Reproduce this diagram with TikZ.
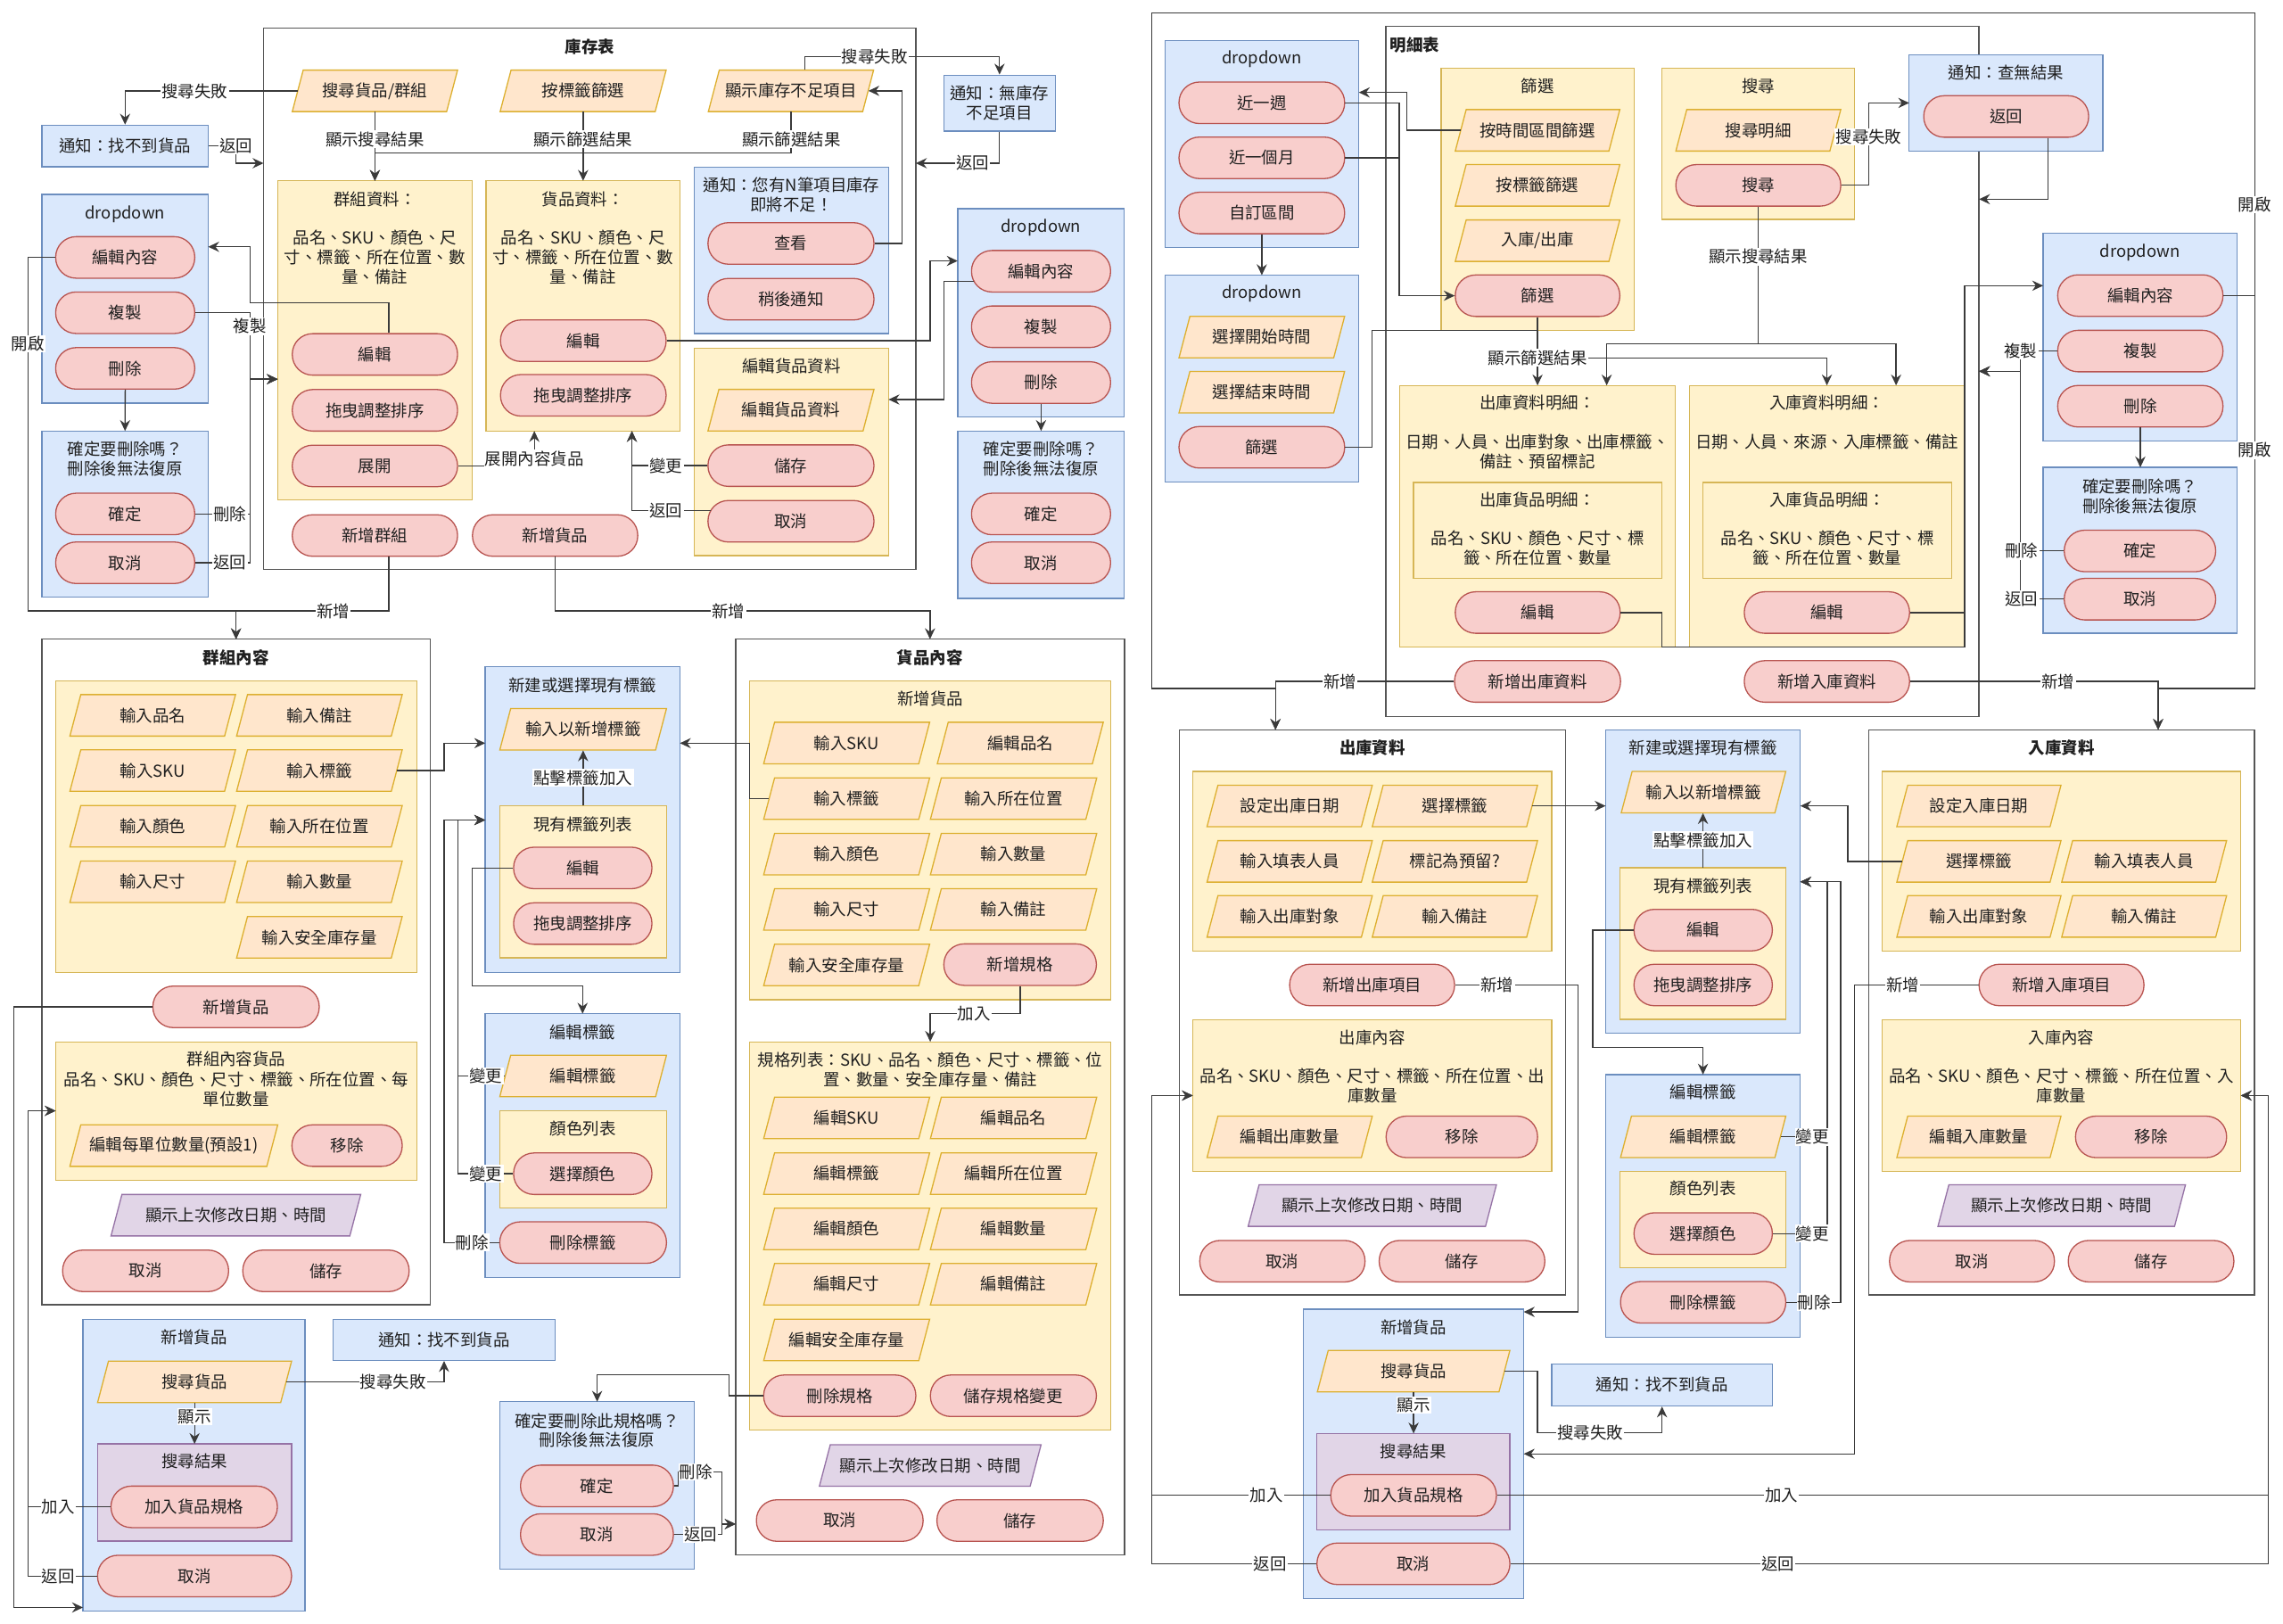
\documentclass[tikz,border=0pt]{standalone}
\usepackage{fontspec}
\setmainfont{Noto Sans CJK TC}
\usetikzlibrary{arrows.meta,calc}
\definecolor{bfill}{HTML}{DAE8FC}
\definecolor{bline}{HTML}{6C8EBF}
\definecolor{yfill}{HTML}{FFF2CC}
\definecolor{yline}{HTML}{D6B656}
\definecolor{ofill}{HTML}{FFE6CC}
\definecolor{oline}{HTML}{DDB030}
\definecolor{rfill}{HTML}{F8CECC}
\definecolor{rline}{HTML}{B85450}
\definecolor{pfill}{HTML}{E1D5E7}
\definecolor{pline}{HTML}{9673A6}
\definecolor{fline}{HTML}{555555}
\definecolor{cline}{HTML}{3A3A3A}
\definecolor{tcol}{HTML}{1F1F1F}
\newcommand\dfont{\fontsize{11.3}{13.4}\selectfont}
\tikzset{
 txt/.style={font=\dfont, text=tcol, inner sep=0pt, align=center},
 bluebox/.style={draw=bline, fill=bfill, line width=0.8pt},
 yelbox/.style={draw=yline, fill=yfill, line width=0.8pt},
 purbox/.style={draw=pline, fill=pfill, line width=0.8pt},
 framebox/.style={draw=fline, fill=white, line width=0.9pt},
 opara/.style={draw=oline, fill=ofill, line width=0.8pt},
 ppara/.style={draw=pline, fill=pfill, line width=0.8pt},
 pill/.style={txt, draw=rline, fill=rfill, rounded corners=14pt, line width=0.8pt, minimum height=28.5pt},
 conn/.style={draw=cline, line width=0.8pt},
 arr/.style={conn, -{Stealth[length=7.5pt,width=7pt,inset=2.5pt]}},
 elabel/.style={txt, fill=white, inner sep=0.8pt},
 ttl/.style={txt, font=\dfont\bfseries},
}
\newcommand\cont[6]{\node[#6, anchor=north west, minimum width={#4pt-#2pt}, minimum height={#5pt-#3pt}, inner sep=0pt, outer sep=0pt] (#1) at (#2,#3) {};}
\newcommand\pil[5]{\node[pill, minimum width={#3pt-#2pt}] (#1) at ({(#2+#3)/2},#4) {#5};}
\newcommand\para[6]{\path[#5] ({#2+7.5},{#4-14.25}) -- (#3,{#4-14.25}) -- ({#3-7.5},{#4+14.25}) -- (#2,{#4+14.25}) -- cycle;
 \node[txt, minimum width={#3pt-#2pt-7.5pt}, minimum height=28.5pt] (#1) at ({(#2+#3)/2},#4) {#6};}
\newcommand\tx[4]{\node[txt] (#1) at (#2,#3) {#4};}
\newcommand\lab[4]{\node[elabel] (#1) at (#2,#3) {#4};}
\begin{document}
\begin{tikzpicture}[x=1pt,y=-1pt]
\useasboundingbox (0,0) rectangle (1568,1115);
\fill[white] (0,0) rectangle (1568,1115);
% ===== frames =====
\cont{stock}{181}{19.4}{629}{391}{framebox}
\cont{detail}{951.75}{18.2}{1359.25}{492.2}{framebox}
\cont{grpc}{28.75}{439}{295.5}{896}{framebox}
\cont{prodc}{505.25}{439}{772.25}{1068}{framebox}
\cont{outc}{810}{501.2}{1075.25}{889.3}{framebox}
\cont{inc}{1283.5}{501.2}{1548.5}{889.3}{framebox}
\node[ttl] (stockT) at (405,32) {庫存表};
\node[ttl, anchor=west] (detailT) at (954.5,31) {明細表};
\node[ttl] (grpcT) at (162.1,451.5) {群組內容};
\node[ttl] (prodcT) at (638.75,451.5) {貨品內容};
\node[ttl] (outcT) at (942.6,513.8) {出庫資料};
\node[ttl] (incT) at (1416,513.8) {入庫資料};
% ===== top left =====
\cont{gdata}{190.75}{124.2}{324.25}{343.4}{yelbox}
\tx{gdataT}{257.5}{136.8}{群組資料：}
\tx{gdataB}{257.5}{176.8}{品名、SKU、顏色、尺\\寸、標籤、所在位置、數\\量、備註}
\cont{pdata}{333.75}{124.2}{467}{296}{yelbox}
\tx{pdataT}{400.4}{136.8}{貨品資料：}
\tx{pdataB}{400.4}{176.8}{品名、SKU、顏色、尺\\寸、標籤、所在位置、數\\量、備註}
\cont{nfN}{477}{115}{610.25}{229.1}{bluebox}
\tx{nfNT}{543.6}{133.85}{通知：您有N筆項目庫存\\即將不足！}
\cont{eprod}{477}{239}{610.25}{381.5}{yelbox}
\tx{eprodT}{543.6}{251.2}{編輯貨品資料}
\cont{dd1}{28.75}{133.5}{143}{276.8}{bluebox}
\tx{dd1T}{85.9}{147}{dropdown}
\cont{c1}{28.75}{296}{143}{410}{bluebox}
\tx{c1T}{85.9}{315.2}{確定要刪除嗎？\\刪除後無法復原}
\cont{dd2}{657.75}{143.4}{772.25}{286.3}{bluebox}
\tx{dd2T}{715}{156.2}{dropdown}
\cont{c2}{657.75}{296}{772.25}{411}{bluebox}
\tx{c2T}{715}{315.2}{確定要刪除嗎？\\刪除後無法復原}
\node[bluebox, txt, minimum width=114.25pt, minimum height=28.6pt] (nf1) at (85.9,100.3) {通知：找不到貨品};
\node[bluebox, txt, minimum width=76.5pt, minimum height=38.5pt] (nf2) at (686.5,70.85) {通知：無庫存\\不足項目};
\para{psearch}{200.75}{314.25}{62.4}{opara}{搜尋貨品/群組}
\para{ptag}{343.5}{457.5}{62.4}{opara}{按標籤篩選}
\para{plow}{486.5}{600}{62.4}{opara}{顯示庫存不足項目}
\para{epp}{486.25}{600.25}{281.7}{opara}{編輯貨品資料}
\pil{gedit}{200.75}{314.25}{243.4}{編輯}
\pil{gdrag}{200.75}{314.25}{281.8}{拖曳調整排序}
\pil{gexp}{200.75}{314.25}{320}{展開}
\pil{pedit}{343.75}{457.5}{234}{編輯}
\pil{pdrag}{343.75}{457.5}{271.5}{拖曳調整排序}
\pil{view}{486.25}{600.25}{167.2}{查看}
\pil{later}{486.25}{600.25}{205.5}{稍後通知}
\pil{esave}{486.25}{600.25}{319.8}{儲存}
\pil{ecancel}{486.25}{600.25}{358}{取消}
\pil{dedit}{38.25}{133.75}{176.8}{編輯內容}
\pil{dcopy}{38.25}{133.75}{214.8}{複製}
\pil{ddel}{38.25}{133.75}{253}{刪除}
\pil{cok}{38.25}{133.75}{353}{確定}
\pil{cno}{38.25}{133.75}{386.5}{取消}
\pil{eedit}{667.25}{762.75}{186.3}{編輯內容}
\pil{ecopy}{667.25}{762.75}{224.4}{複製}
\pil{edel}{667.25}{762.75}{262.7}{刪除}
\pil{eok}{667.25}{762.75}{353}{確定}
\pil{eno}{667.25}{762.75}{386.5}{取消}
\pil{newgrp}{200.75}{314.25}{367.8}{新增群組}
\pil{newprod}{324.5}{438}{367.8}{新增貨品}
% ===== top right =====
\cont{dd3}{800.25}{27.9}{933.25}{170}{bluebox}
\tx{dd3T}{866.75}{40.7}{dropdown}
\pil{wk}{809.75}{923.5}{70.6}{近一週}
\pil{mo}{809.75}{923.5}{108.4}{近一個月}
\pil{cust}{809.75}{923.5}{146.3}{自訂區間}
\cont{dd4}{800.25}{189}{933.25}{330.9}{bluebox}
\tx{dd4T}{866.75}{201.8}{dropdown}
\para{tstart}{809.75}{923.5}{231.5}{opara}{選擇開始時間}
\para{tend}{809.75}{923.5}{269.3}{opara}{選擇結束時間}
\pil{dfilt}{809.75}{923.5}{307.2}{篩選}
\cont{flt}{989.75}{46.7}{1122.25}{227}{yelbox}
\tx{fltT}{1056}{58.9}{篩選}
\para{ftime}{999.5}{1112.5}{89.5}{opara}{按時間區間篩選}
\para{ftag}{999.5}{1112.5}{127.3}{opara}{按標籤篩選}
\para{finout}{999.5}{1112.5}{165.3}{opara}{入庫/出庫}
\pil{fbtn}{999.5}{1112.5}{203.1}{篩選}
\cont{srch}{1141.5}{46.7}{1273.5}{150.6}{yelbox}
\tx{srchT}{1207.5}{58.9}{搜尋}
\para{sdet}{1151}{1264.25}{89.5}{opara}{搜尋明細}
\pil{sbtn}{1151}{1264.25}{127.3}{搜尋}
\cont{nf3}{1311.25}{37.5}{1444.25}{103.7}{bluebox}
\tx{nf3T}{1377.75}{50.1}{通知：查無結果}
\pil{nback}{1321.25}{1434.5}{80}{返回}
\cont{od}{961.25}{264.7}{1150.75}{444.5}{yelbox}
\tx{odT}{1056}{276.8}{出庫資料明細：}
\tx{odB}{1056}{310.15}{日期、人員、出庫對象、出庫標籤、\\備註、預留標記}
\cont{oditem}{970.75}{331.3}{1141.5}{397}{yelbox}
\tx{oditemT}{1056}{343.4}{出庫貨品明細：}
\tx{oditemB}{1056}{376.25}{品名、SKU、顏色、尺寸、標\\籤、所在位置、數量}
\pil{odedit}{999.5}{1112.75}{420.7}{編輯}
\cont{idt}{1160.25}{264.7}{1349.25}{444.5}{yelbox}
\tx{idtT}{1254.75}{276.8}{入庫資料明細：}
\tx{idtB}{1254.75}{303.5}{日期、人員、來源、入庫標籤、備註}
\cont{iditem}{1169.75}{331.3}{1340.25}{397}{yelbox}
\tx{iditemT}{1255}{343.4}{入庫貨品明細：}
\tx{iditemB}{1255}{376.25}{品名、SKU、顏色、尺寸、標\\籤、所在位置、數量}
\pil{idedit}{1198}{1311.5}{420.7}{編輯}
\pil{newout}{999}{1113}{468}{新增出庫資料}
\pil{newin}{1198}{1311.5}{468}{新增入庫資料}
\cont{dd5}{1403.25}{160.3}{1536.25}{302.8}{bluebox}
\tx{dd5T}{1469.75}{173.7}{dropdown}
\pil{fedit}{1413.25}{1526.75}{203}{編輯內容}
\pil{fcopy}{1413.25}{1526.75}{241.1}{複製}
\pil{fdel}{1413.25}{1526.75}{279}{刪除}
\cont{c5}{1403.25}{321}{1536.25}{434.8}{bluebox}
\tx{c5T}{1469.75}{340.6}{確定要刪除嗎？\\刪除後無法復原}
\pil{fok}{1417.75}{1521.75}{378.4}{確定}
\pil{fno}{1417.75}{1521.75}{411.5}{取消}
% ===== lower left =====
\cont{gin}{38.25}{467.5}{286.25}{667.8}{yelbox}
\para{giname}{48}{161.75}{491.3}{opara}{輸入品名}
\para{gisku}{48}{161.75}{529.2}{opara}{輸入SKU}
\para{gicolor}{48}{161.75}{567.5}{opara}{輸入顏色}
\para{gisize}{48}{161.75}{605.6}{opara}{輸入尺寸}
\para{ginote}{162.5}{276.25}{491.3}{opara}{輸入備註}
\para{gitag}{162.5}{276.25}{529.2}{opara}{輸入標籤}
\para{giloc}{162.5}{276.25}{567.5}{opara}{輸入所在位置}
\para{giqty}{162.5}{276.25}{605.6}{opara}{輸入數量}
\para{gisafe}{162.5}{276.25}{643.7}{opara}{輸入安全庫存量}
\pil{gaddp}{105}{219.25}{691.5}{新增貨品}
\cont{gitems}{38.25}{715.5}{286.25}{810.8}{yelbox}
\tx{gitemsT}{162.25}{727.6}{群組內容貨品}
\tx{gitemsB}{162.25}{748}{品名、SKU、顏色、尺寸、標籤、所在位置、每\\單位數量}
\para{gunit}{48}{190.75}{786.8}{opara}{編輯每單位數量(預設1)}
\pil{gremove}{200.5}{276.25}{786.8}{移除}
\para{gts}{76.25}{247.75}{834.6}{ppara}{顯示上次修改日期、時間}
\pil{gcancel}{43}{157}{872.8}{取消}
\pil{gsave}{166.75}{281}{872.8}{儲存}
\cont{addpA}{57}{906.2}{209.5}{1106.3}{bluebox}
\tx{addpAT}{133.25}{918.3}{新增貨品}
\para{spA}{67}{200.25}{949.1}{opara}{搜尋貨品}
\cont{srA}{67}{991.7}{200.25}{1058.3}{purbox}
\tx{srAT}{133.6}{1003.8}{搜尋結果}
\pil{addspecA}{76.25}{190.5}{1034.9}{加入貨品規格}
\pil{cancelA}{67}{200.25}{1082.4}{取消}
\node[bluebox, txt, minimum width=152.5pt, minimum height=28.1pt] (nfA) at (305,920.25) {通知：找不到貨品};
\cont{tagL}{333.25}{457.8}{467}{667.8}{bluebox}
\tx{tagLT}{400.1}{470.4}{新建或選擇現有標籤}
\para{tinL}{343.25}{457.75}{500.9}{opara}{輸入以新增標籤}
\cont{tlistL}{343.25}{553.3}{457.75}{657.9}{yelbox}
\tx{tlistLT}{400.5}{566}{現有標籤列表}
\pil{teditL}{352.75}{447.75}{596.1}{編輯}
\pil{tdragL}{352.75}{447.75}{634.3}{拖曳調整排序}
\cont{etagL}{333.25}{696.2}{467}{877.4}{bluebox}
\tx{etagLT}{400.1}{709}{編輯標籤}
\para{etpL}{343.25}{457.75}{739}{opara}{編輯標籤}
\cont{colL}{343.25}{762.9}{457.75}{829.5}{yelbox}
\tx{colLT}{400.5}{775}{顏色列表}
\pil{colselL}{352.75}{447.75}{806.1}{選擇顏色}
\pil{tdelL}{343.25}{457.75}{853.4}{刪除標籤}
% product content
\cont{pnew}{514.75}{467.5}{763}{686.7}{yelbox}
\tx{pnewT}{638.9}{480.1}{新增貨品}
\para{pcsku}{524.5}{638.5}{510.3}{opara}{輸入SKU}
\para{pctag}{524.5}{638.5}{548.5}{opara}{輸入標籤}
\para{pccolor}{524.5}{638.5}{586.6}{opara}{輸入顏色}
\para{pcsize}{524.5}{638.5}{624.6}{opara}{輸入尺寸}
\para{pcsafe}{524.5}{638.5}{662.7}{opara}{輸入安全庫存量}
\para{pcname}{643.75}{757.75}{510.3}{opara}{編輯品名}
\para{pcloc}{639}{753.25}{548.5}{opara}{輸入所在位置}
\para{pcqty}{639}{753.25}{586.6}{opara}{輸入數量}
\para{pcnote}{639}{753.25}{624.6}{opara}{輸入備註}
\pil{pcadd}{648.25}{753}{662.5}{新增規格}
\cont{spec}{514.75}{715.5}{763}{982}{yelbox}
\tx{specT}{638.9}{734.45}{規格列表：SKU、品名、顏色、尺寸、標籤、位\\置、數量、安全庫存量、備註}
\para{spsku}{524.5}{638.5}{767.8}{opara}{編輯SKU}
\para{sptag}{524.5}{638.5}{806}{opara}{編輯標籤}
\para{spcolor}{524.5}{638.5}{844}{opara}{編輯顏色}
\para{spsize}{524.5}{638.5}{882}{opara}{編輯尺寸}
\para{spsafe}{524.5}{638.5}{920.3}{opara}{編輯安全庫存量}
\para{spname}{639}{753.25}{767.8}{opara}{編輯品名}
\para{sploc}{639}{753.25}{806}{opara}{編輯所在位置}
\para{spqty}{639}{753.25}{844}{opara}{編輯數量}
\para{spnote}{639}{753.25}{882}{opara}{編輯備註}
\pil{spdel}{524.5}{629}{958.6}{刪除規格}
\pil{spsave}{639}{753}{958.6}{儲存規格變更}
\para{pcts}{562.75}{715}{1006.5}{ppara}{顯示上次修改日期、時間}
\pil{pccancel}{519.5}{634}{1044.3}{取消}
\pil{pcsave}{643.5}{757.75}{1044.3}{儲存}
\cont{csp}{343.25}{962.7}{477}{1077.7}{bluebox}
\tx{cspT}{410.1}{982.4}{確定要刪除此規格嗎？\\刪除後無法復原}
\pil{cspok}{357.5}{462.5}{1020.5}{確定}
\pil{cspno}{357.5}{462.5}{1053.9}{取消}
% ===== lower right =====
\cont{oin}{819.25}{529.8}{1065.75}{653.3}{yelbox}
\para{odate}{829}{942.5}{553.5}{opara}{設定出庫日期}
\para{ouser}{829}{942.5}{591.6}{opara}{輸入填表人員}
\para{otarget}{829}{942.5}{629.4}{opara}{輸入出庫對象}
\para{otag}{942.5}{1056}{553.5}{opara}{選擇標籤}
\para{oresv}{942.5}{1056}{591.6}{opara}{標記為預留?}
\para{onote}{942.5}{1056}{629.4}{opara}{輸入備註}
\pil{oadd}{885.75}{999}{676.5}{新增出庫項目}
\cont{ocont}{819.25}{700.5}{1065.75}{804.5}{yelbox}
\tx{ocontT}{942.5}{712.6}{出庫內容}
\tx{ocontB}{942.5}{745.6}{品名、SKU、顏色、尺寸、標籤、所在位置、出\\庫數量}
\para{oqty}{829}{942.5}{780.8}{opara}{編輯出庫數量}
\pil{orm}{952}{1056}{780.8}{移除}
\para{ots}{857.25}{1027.75}{828}{ppara}{顯示上次修改日期、時間}
\pil{ocancel}{824}{937.5}{866.2}{取消}
\pil{osave}{947.25}{1061}{866.2}{儲存}
\cont{tagR}{1102.75}{501.2}{1236.5}{709.7}{bluebox}
\tx{tagRT}{1169.6}{513.8}{新建或選擇現有標籤}
\para{tinR}{1113.5}{1226.5}{544}{opara}{輸入以新增標籤}
\cont{tlistR}{1112.75}{595.9}{1226.5}{700}{yelbox}
\tx{tlistRT}{1169.6}{608.5}{現有標籤列表}
\pil{teditR}{1122.25}{1217.25}{638.8}{編輯}
\pil{tdragR}{1122.25}{1217.25}{676.5}{拖曳調整排序}
\cont{etagR}{1102.75}{738}{1236.5}{918.3}{bluebox}
\tx{etagRT}{1169.6}{750}{編輯標籤}
\para{etpR}{1113}{1226.5}{780.8}{opara}{編輯標籤}
\cont{colR}{1112.75}{804.5}{1226.5}{870.6}{yelbox}
\tx{colRT}{1169.6}{816}{顏色列表}
\pil{colselR}{1122.25}{1217.25}{847.2}{選擇顏色}
\pil{tdelR}{1113}{1226.5}{894.4}{刪除標籤}
\cont{addpB}{895}{899.2}{1046.5}{1097.8}{bluebox}
\tx{addpBT}{970.75}{911.8}{新增貨品}
\para{spB}{904.75}{1037}{941.7}{opara}{搜尋貨品}
\cont{srB}{904.25}{984.5}{1037}{1050.6}{purbox}
\tx{srBT}{970.6}{996.6}{搜尋結果}
\pil{addspecB}{914}{1027.75}{1027}{加入貨品規格}
\pil{cancelB}{904.5}{1037}{1074}{取消}
\node[bluebox, txt, minimum width=151.5pt, minimum height=28.9pt] (nfB) at (1141.5,951.15) {通知：找不到貨品};
\cont{iin}{1292.5}{529.8}{1539}{653.3}{yelbox}
\para{idate}{1302.75}{1415.5}{553.5}{opara}{設定入庫日期}
\para{itag}{1302.75}{1415.5}{591.6}{opara}{選擇標籤}
\para{iuser}{1416}{1529.25}{591.6}{opara}{輸入填表人員}
\para{itarget}{1302.75}{1415.5}{629.4}{opara}{輸入出庫對象}
\para{inote}{1416}{1529.25}{629.4}{opara}{輸入備註}
\pil{iadd}{1359.25}{1472.5}{676.5}{新增入庫項目}
\cont{icont}{1292.5}{700.5}{1539}{804.5}{yelbox}
\tx{icontT}{1415.75}{712.6}{入庫內容}
\tx{icontB}{1415.75}{745.6}{品名、SKU、顏色、尺寸、標籤、所在位置、入\\庫數量}
\para{iqty}{1302.75}{1415.5}{780.8}{opara}{編輯入庫數量}
\pil{irm}{1425.5}{1529.25}{780.8}{移除}
\para{its}{1331}{1501}{828}{ppara}{顯示上次修改日期、時間}
\pil{icancel}{1297.75}{1411}{866.2}{取消}
\pil{isave}{1420.5}{1534.25}{866.2}{儲存}
% ===== connectors: top left =====
\draw[arr] (psearch.south) -- (gdata.north);
\draw[arr] (ptag.south) -- (ptag.south |- pdata.north);
\draw[arr] (plow.south) |- (257.5,105.1) -- (gdata.north);
\draw[arr] (psearch.west) -| (nf1.north);
\draw[arr] (nf1.east) -- (162,100.3) -- (162,112.1) -- (stock.west |- 0,112.1);
\draw[arr] (plow.north -| 552.75,0) |- (nf2.north |- 0,38.75) -- (nf2.north);
\draw[arr] (nf2.south) |- (stock.east |- 0,112.1);
\draw[arr] (view.east) -| (619.5,62.4) -- (plow.east);
\draw[arr] (dedit.west) -| (19.25,419.6) -| (grpc.north);
\draw[arr] (newgrp.south -| 267,0) |- (grpc.north |- 0,419.6) -- (grpc.north);
\draw[arr] (dcopy.east) -| (171.75,260.4) -- (gdata.west |- 0,260.4);
\draw[arr] (gedit.north -| 267,0) |- (171.75,207.8) |- (dd1.east |- 0,169.5);
\draw[arr] (cok.east) -| (171.75,260.4) -- (gdata.west |- 0,260.4);
\draw[arr] (cno.east) -| (171.75,260.4) -- (gdata.west |- 0,260.4);
\draw[arr] (ddel.south) -- (c1.north);
\draw[arr] (gexp.east) -| (pdata.south -| 367,0);
\draw[arr] (newprod.south) |- (prodc.north |- 0,419.6) -- (prodc.north);
\draw[arr] (pedit.east) -| (638.75,179.2) -- (dd2.west |- 0,179.2);
\draw[arr] ($(eedit.west)+(2,7)$) -| (648.25,274.4) -- (eprod.east |- 0,274.4);
\draw[arr] (esave.west) -| (pdata.south -| 434,0);
\draw[arr] ($(ecancel.west)+(2,-7.3)$) -| (pdata.south -| 434,0);
\draw[arr] (edel.south) -- (c2.north);
% ===== connectors: top right =====
\draw[arr] (fedit.east) -| (1548.5,9) -| (791,472.9) -| (outc.north -| 876,0);
\draw[arr] (fedit.east) -| (1548.5,472.9) -| (inc.north -| 1482.25,0);
\draw[arr] (ftime.west) -| (966.25,63.5) -- (dd3.east |- 0,63.5);
\draw[arr] (wk.east) -| (961,203.1) -- (fbtn.west);
\draw[conn] (mo.east) -- (961,108.4);
\draw[arr] (cust.south) -- (cust.south |- dd4.north);
\draw[arr] (fbtn.south) -- (od.north);
\draw[arr] (fbtn.south |- 0,245.8) -| (idt.north);
\draw[conn] (dfilt.east) -| (942.5,227) -- (fbtn.south |- 0,227);
\draw[arr] (sbtn.south) |- (1103.5,236.1) -- (od.north -| 1103.5,0);
\draw[arr] (sbtn.south) |- (1302.25,236.1) -- (idt.north -| 1302.25,0);
\draw[arr] (sbtn.east) -| (1283.5,70.7) -- (nf3.west |- 0,70.7);
\draw[arr] (nback.south -| 1406.5,0) |- (detail.east |- 0,136.8);
\draw[arr] (odedit.east) -| (1141.5,444.5) -| (1349.25,196.2) -- (dd5.west |- 0,196.2);
\draw[conn] (idedit.east) -- (1349.25,420.7);
\draw[arr] (newout.west) -| (outc.north -| 876,0);
\draw[arr] (newin.east) -| (inc.north -| 1482.25,0);
\draw[arr] (fcopy.west) -| (1387.75,255) -- (detail.east |- 0,255);
\draw[arr] (fok.west) -| (1387.75,255) -- (detail.east |- 0,255);
\draw[arr] (fno.west) -| (1387.75,255) -- (detail.east |- 0,255);
\draw[arr] (fdel.south) -- (fdel.south |- c5.north);
% ===== connectors: lower left =====
\draw[arr] (gitag.east) -| (305,510.4) -- (tagL.west |- 0,510.4);
\draw[arr] (gaddp.west) -| (9.5,1104) -- (addpA.west |- 0,1104);
\draw[arr] (spA.south) -- (spA.south |- srA.north);
\draw[arr] (addspecA.west) -| (19.25,762.9) -- (gitems.west |- 0,762.9);
\draw[arr] (cancelA.west) -| (19.25,762.9) -- (gitems.west |- 0,762.9);
\draw[arr] (spA.east) -| (nfA.south);
\draw[arr] (tlistL.north) -- (tlistL.north |- tinL.south);
\draw[arr] (teditL.west) -| (324.25,677) -| (etagL.north);
\draw[arr] (etpL.west) -| (314.5,563.2) -- (tagL.west |- 0,563.2);
\draw[arr] (colselL.west) -| (314.5,563.2) -- (tagL.west |- 0,563.2);
\draw[arr] (tdelL.west) -| (305,563.2) -- (tagL.west |- 0,563.2);
\draw[arr] (pctag.west) -| (514.75,510.4) -- (tagL.east |- 0,510.4);
\draw[arr] (pcadd.south) |- (spec.north |- 0,696) -- (spec.north);
\draw[arr] (spdel.west) -| (500.75,944) -| (csp.north);
\draw[arr] (cspok.east) -- ++(3,0) |- (495.75,1011) -- (495.75,1046.7) -- (prodc.west |- 0,1046.7);
\draw[arr] (cspno.east) -| (495.75,1046.7) -- (prodc.west |- 0,1046.7);
% ===== connectors: lower right =====
\draw[arr] (otag.east) -- (tagR.west |- otag.east);
\draw[arr] (oadd.east) -| (1084,901) -- (addpB.east |- 0,901);
\draw[arr] (tlistR.north) -- (tlistR.north |- tinR.south);
\draw[arr] (teditR.west) -| (1094,719.2) -| (etagR.north);
\draw[arr] (itag.west) -| (1269,553.5) -- (tagR.east |- 0,553.5);
\draw[arr] (etpR.east) -| (1255,605.6) -- (tagR.east |- 0,605.6);
\draw[arr] (colselR.east) -| (1255,605.6) -- (tagR.east |- 0,605.6);
\draw[arr] (tdelR.east) -| (1264.25,605.6) -- (tagR.east |- 0,605.6);
\draw[arr] (iadd.west) -| (1273.5,998.5) -- (addpB.east |- 0,998.5);
\draw[arr] (spB.east) -| (1056,984) -| (nfB.south);
\draw[arr] (spB.south) -- (spB.south |- srB.north);
\draw[arr] (addspecB.west) -| (791,752.4) -- (ocont.west |- 0,752.4);
\draw[arr] (cancelB.west) -| (791,752.4) -- (ocont.west |- 0,752.4);
\draw[arr] (addspecB.east) -| (1558,752.4) -- (icont.east |- 0,752.4);
\draw[arr] (cancelB.east) -| (1558,752.4) -- (icont.east |- 0,752.4);
% ===== labels =====
\lab{la1}{257.5}{95.7}{顯示搜尋結果}
\lab{la2}{400.5}{95.7}{顯示篩選結果}
\lab{la3}{543.5}{95.7}{顯示篩選結果}
\lab{la4}{133.75}{62.5}{搜尋失敗}
\lab{la5}{162}{100.3}{返回}
\lab{la6}{600.75}{38.75}{搜尋失敗}
\lab{la7}{668}{112.1}{返回}
\lab{la8}{19.25}{236}{開啟}
\lab{la9}{228.75}{419.6}{新增}
\lab{la10}{171.75}{224}{複製}
\lab{la11}{158}{353}{刪除}
\lab{la12}{158}{386.5}{返回}
\lab{la13}{367}{315}{展開內容貨品}
\lab{la14}{500.25}{419.6}{新增}
\lab{la15}{457.5}{319.8}{變更}
\lab{la16}{457.5}{350.7}{返回}
\lab{lb1}{1548.5}{140.5}{開啟}
\lab{lb2}{1548.5}{309.3}{開啟}
\lab{lb3}{1056}{245.8}{顯示篩選結果}
\lab{lb4}{1207.5}{176.3}{顯示搜尋結果}
\lab{lb5}{1283.5}{94}{搜尋失敗}
\lab{lb6}{920.25}{468}{新增}
\lab{lb7}{1413.5}{468}{新增}
\lab{lb8}{1387.75}{241.1}{複製}
\lab{lb9}{1388.5}{378.4}{刪除}
\lab{lb10}{1388.5}{411.5}{返回}
\lab{lc1}{40}{1034.9}{加入}
\lab{lc2}{40}{1082.4}{返回}
\lab{lc3}{133.75}{973}{顯示}
\lab{lc4}{270}{949.1}{搜尋失敗}
\lab{lc5}{400.5}{534.1}{點擊標籤加入}
\lab{lc6}{333.75}{739}{變更}
\lab{lc7}{333.75}{806.1}{變更}
\lab{lc8}{324.25}{853.4}{刪除}
\lab{lc9}{669}{696}{加入}
\lab{lc10}{478}{1011}{刪除}
\lab{lc11}{481.25}{1053.9}{返回}
\lab{ld1}{1028.25}{676.5}{新增}
\lab{ld2}{1306.75}{676.5}{新增}
\lab{ld3}{1169.6}{577}{點擊標籤加入}
\lab{ld4}{1244.75}{780.8}{變更}
\lab{ld5}{1244.75}{847.2}{變更}
\lab{ld6}{1246}{894.4}{刪除}
\lab{ld7}{1092.25}{984}{搜尋失敗}
\lab{ld8}{971}{965}{顯示}
\lab{ld9}{869.75}{1027}{加入}
\lab{ld10}{872.25}{1074}{返回}
\lab{ld11}{1223.5}{1027}{加入}
\lab{ld12}{1221}{1074}{返回}
\end{tikzpicture}
\end{document}
